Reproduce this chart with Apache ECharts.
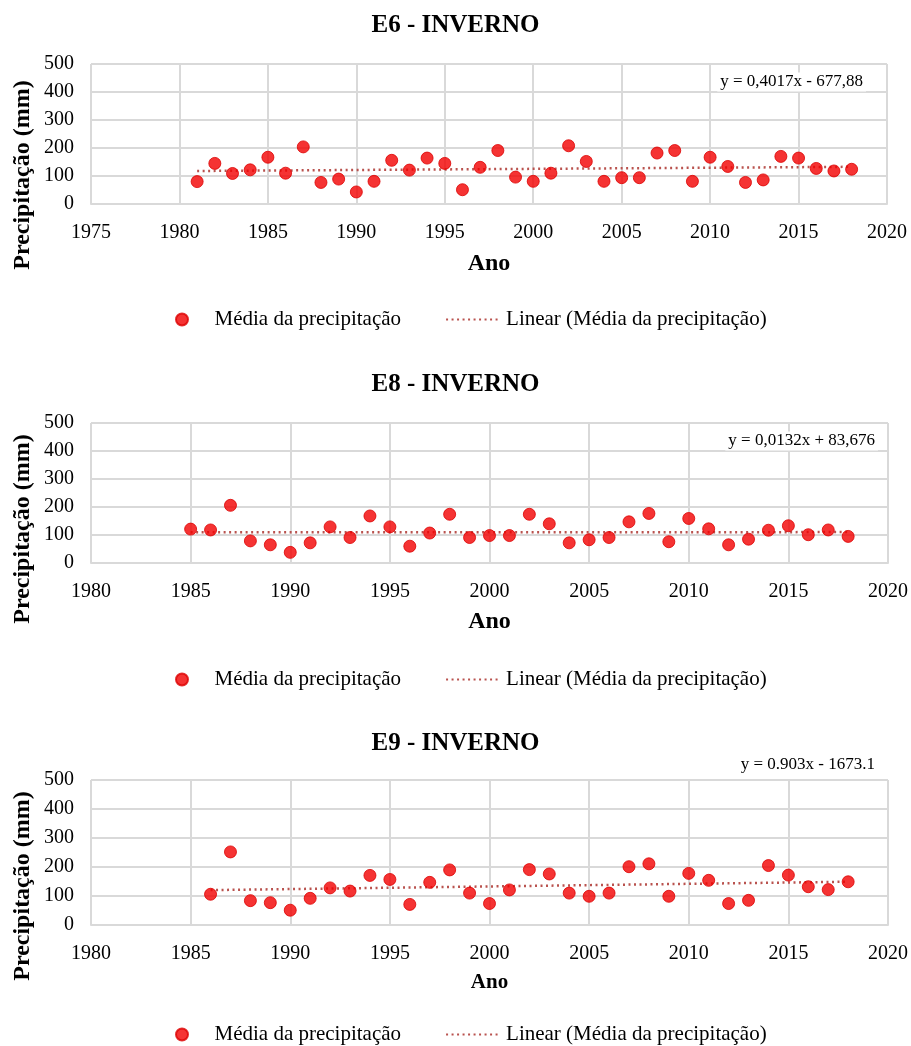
<!DOCTYPE html>
<html>
<head>
<meta charset="utf-8">
<script src="https://cdn.jsdelivr.net/npm/echarts@6/dist/echarts.min.js"></script>
<style>
html,body{margin:0;padding:0;background:#fff;}
#c{width:911px;height:1046px;}
</style>
</head>
<body>
<div id="c"></div>
<script>
// ---- Data ----
const titles = ['E6 - INVERNO', 'E8 - INVERNO', 'E9 - INVERNO'];
const equations = ['y = 0,4017x - 677,88', 'y = 0,0132x + 83,676', 'y = 0.903x - 1673.1'];
const seriesName = 'Média da precipitação';
const trendName = 'Linear (Média da precipitação)';
const yAxisTitle = 'Precipitação (mm)';
const xAxisTitle = 'Ano';

const yearsE6 = [1981,1982,1983,1984,1985,1986,1987,1988,1989,1990,1991,1992,1993,1994,1995,1996,1997,1998,1999,2000,2001,2002,2003,2004,2005,2006,2007,2008,2009,2010,2011,2012,2013,2014,2015,2016,2017,2018];
const valuesE6 = [80,145,109,122,167,110,204,77,89,43,81,156,121,164,145,51,131,191,96,81,110,208,152,81,94,94,182,191,81,167,134,77,86,170,164,127,118,124];

const yearsE8 = [1985,1986,1987,1988,1989,1990,1991,1992,1993,1994,1995,1996,1997,1998,1999,2000,2001,2002,2003,2004,2005,2006,2007,2008,2009,2010,2011,2012,2013,2014,2015,2016,2017,2018];
const valuesE8 = [121,118,206,79,65,38,72,129,91,168,129,60,107,174,91,98,98,174,140,72,83,91,147,177,76,159,122,65,85,117,133,101,118,95];

const yearsE9 = [1986,1987,1988,1989,1990,1991,1992,1993,1994,1995,1996,1997,1998,1999,2000,2001,2002,2003,2004,2005,2006,2007,2008,2009,2010,2011,2012,2013,2014,2015,2016,2017,2018];
const valuesE9 = [106,252,84,77,51,92,128,117,171,157,71,147,190,110,74,121,191,176,110,99,110,201,211,99,178,154,74,85,205,172,132,122,149];

// trend line end points (year, value) as shown in the chart
const trendE6 = [[1981, 117.9], [2018, 132.8]];
const trendE8 = [[1985, 109.9], [2018, 110.3]];
const trendE9 = [[1986, 120.3], [2018, 149.2]];

const xMin = [1975, 1980, 1980];
const xMax = 2020;
const yTicks = [0, 100, 200, 300, 400, 500];

// ---- Layout ----
const FONT = "'Liberation Serif','Times New Roman',serif";
const GRID = '#d9d9d9';
const TREND = '#b9524e';
const grids = [
  {left: 91, top: 64, width: 796, height: 140},
  {left: 91, top: 423, width: 798, height: 140},
  {left: 91, top: 780, width: 798, height: 145}
];
const titleTops = [8, 367, 726];
const legendTops = [304, 664, 1019];
const yTitleCenters = [175, 529, 886];
const eqPos = [[866, 82], [878, 441], [878, 765]];
const xNameGap = [48, 47, 47];
const xNameSize = [24, 24, 21];

const years = [yearsE6, yearsE8, yearsE9];
const values = [valuesE6, valuesE8, valuesE9];
const trends = [trendE6, trendE8, trendE9];

const option = {
  animation: false,
  backgroundColor: '#fff',
  title: titles.map((t, i) => ({
    text: t, left: 'center', top: titleTops[i],
    textStyle: {fontFamily: FONT, fontSize: 25, fontWeight: 'bold', color: '#000'}
  })),
  legend: legendTops.map(t => ({
    top: t, left: 170,
    itemWidth: 55, itemHeight: 12, itemGap: 44,
    textStyle: {fontFamily: FONT, fontSize: 21, color: '#000'},
    data: [
      {name: seriesName, icon: 'circle'},
      {name: trendName, itemStyle: {color: 'rgba(0,0,0,0)', borderColor: 'rgba(0,0,0,0)', borderWidth: 0}}
    ]
  })),
  grid: grids.map(g => Object.assign({containLabel: false}, g)),
  xAxis: grids.map((g, i) => ({
    type: 'value', gridIndex: i, min: xMin[i], max: xMax, interval: 5,
    name: xAxisTitle, nameLocation: 'middle', nameGap: xNameGap[i],
    nameTextStyle: {fontFamily: FONT, fontSize: xNameSize[i], fontWeight: 'bold', color: '#000'},
    axisLine: {show: true, lineStyle: {color: GRID, width: 2}},
    axisTick: {show: false},
    axisLabel: {fontFamily: FONT, fontSize: 20, color: '#000', margin: 19, formatter: v => String(v)},
    splitLine: {show: true, lineStyle: {color: GRID, width: 2}}
  })),
  yAxis: grids.map((g, i) => ({
    type: 'value', gridIndex: i, min: yTicks[0], max: yTicks[yTicks.length - 1], interval: 100,
    axisLine: {show: false},
    axisTick: {show: false},
    axisLabel: {fontFamily: FONT, fontSize: 20, color: '#000', margin: 17},
    splitLine: {show: true, lineStyle: {color: GRID, width: 2}}
  })),
  series: [],
  graphic: []
};

for (let i = 0; i < 3; i++) {
  option.series.push({
    name: trendName, type: 'line', xAxisIndex: i, yAxisIndex: i,
    data: trends[i], symbol: 'none', showSymbol: false, silent: true, z: 2,
    itemStyle: {color: 'rgba(0,0,0,0)', borderColor: 'rgba(0,0,0,0)', borderWidth: 0},
    lineStyle: {color: TREND, width: 2.5, type: [2, 3.5]}
  });
  option.series.push({
    name: seriesName, type: 'scatter', xAxisIndex: i, yAxisIndex: i,
    data: years[i].map((y, k) => [y, values[i][k]]),
    symbol: 'circle', symbolSize: 12, z: 3,
    itemStyle: {color: '#f20000', borderColor: '#dc0000', borderWidth: 1}
  });
  option.graphic.push({
    type: 'text', rotation: Math.PI / 2, x: 23, y: yTitleCenters[i],
    style: {text: yAxisTitle, fontFamily: FONT, fontSize: 24, fontWeight: 'bold',
            fill: '#000', align: 'center', verticalAlign: 'middle'}
  });
  option.graphic.push({
    type: 'text', x: eqPos[i][0], y: eqPos[i][1], z: 10,
    style: {text: equations[i], fontFamily: FONT, fontSize: 17,
            fill: '#000', align: 'right', verticalAlign: 'middle',
            backgroundColor: '#fff', padding: [1, 3]}
  });
}

const chart = echarts.init(document.getElementById('c'), null, {renderer: 'canvas'});
chart.setOption(option);
</script>
</body>
</html>
